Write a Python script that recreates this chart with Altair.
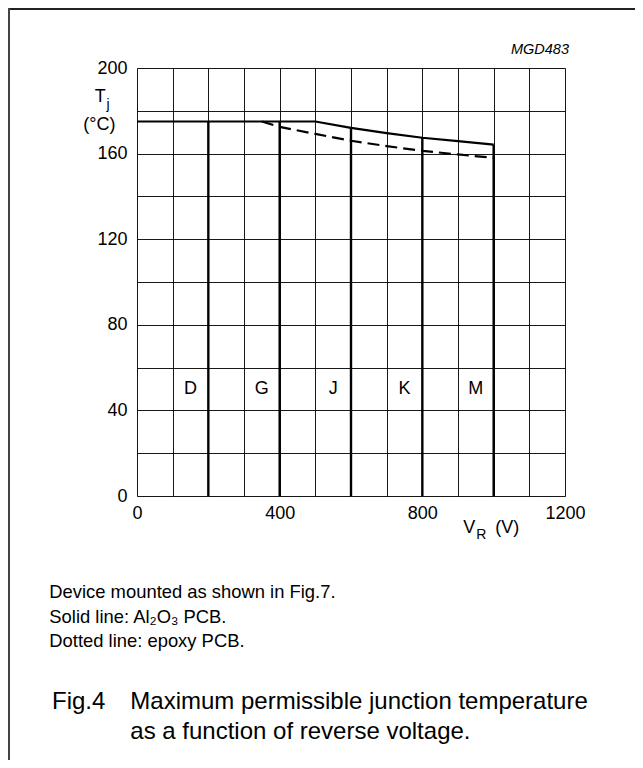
import altair as alt
import pandas as pd

# ---- data ----
solid_v = [0, 500, 600, 700, 800, 900, 1000]
solid_t = [175, 175, 172, 169.6, 167.4, 165.8, 164.2]
dash_v = [350, 400, 500, 600, 700, 800, 900, 1000]
dash_t = [175, 172.5, 169.2, 166, 163.5, 161.3, 159.6, 158]
bar_v = [200, 400, 600, 800, 1000]
bar_t = [175, 175, 172, 167.4, 164.2]
type_labels = ["D", "G", "J", "K", "M"]
type_v = [150, 350, 550, 750, 950]
type_t = [50, 50, 50, 50, 50]
x_grid = list(range(0, 1201, 100))
y_grid = list(range(0, 201, 20))
notes = ["Device mounted as shown in Fig.7.", "Solid line: Al\u2082O\u2083 PCB.", "Dotted line: epoxy PCB."]
caption_num = "Fig.4"
caption = ["Maximum permissible junction temperature", "as a function of reverse voltage."]

FONT = "Liberation Sans"

df_solid = pd.DataFrame({"v": solid_v, "t": solid_t})
df_dash = pd.DataFrame({"v": dash_v, "t": dash_t})
df_bar = pd.DataFrame({"v": bar_v, "t": bar_t})
df_types = pd.DataFrame({"v": type_v, "t": type_t, "label": type_labels})
one = pd.DataFrame({"a": [0]})

xscale = alt.Scale(domain=[0, 1200], nice=False, zero=False)
yscale = alt.Scale(domain=[0, 200], nice=False, zero=False)

xaxis = alt.Axis(values=x_grid, format="d",
                 labelExpr="datum.value % 400 == 0 ? datum.label : ''",
                 grid=True, gridColor="black", gridWidth=1, gridOpacity=0.9,
                 domain=False, ticks=False, labelFont=FONT, labelFontSize=18,
                 labelColor="black", labelPadding=8, labelFlush=False)
yaxis = alt.Axis(values=y_grid, format="d",
                 labelExpr="datum.value % 40 == 0 ? datum.label : ''",
                 grid=True, gridColor="black", gridWidth=1, gridOpacity=0.9,
                 domain=False, ticks=False, labelFont=FONT, labelFontSize=18,
                 labelColor="black", labelPadding=10, labelFlush=False)

X = alt.X("v:Q", scale=xscale, title=None, axis=xaxis)
Y = alt.Y("t:Q", scale=yscale, title=None, axis=yaxis)

solid = alt.Chart(df_solid).mark_line(color="black", strokeWidth=2.2).encode(x=X, y=Y)

dashed = alt.Chart(df_dash).mark_line(color="black", strokeWidth=2.2, strokeDash=[12, 6]).encode(x=X, y=Y)

bars = alt.Chart(df_bar).mark_rule(color="black", strokeWidth=2.4).encode(
    x=X, y=Y, y2=alt.datum(0),
)

types = alt.Chart(df_types).mark_text(font=FONT, fontSize=18, color="black").encode(
    x=X, y=Y, text="label:N",
)


def txt(s, x, y, size=18, align="left", style="normal", baseline="middle"):
    return alt.Chart(one).mark_text(
        text=s, font=FONT, fontSize=size, align=align, baseline=baseline,
        fontStyle=style, color="black"
    ).encode(x=alt.value(x), y=alt.value(y))


annots = [
    txt("MGD483", 432, -18, size=14.5, align="right", style="italic"),
    txt("T", -36.7, 29, size=18, align="center"),
    txt("j", -29, 37, size=14, align="center"),
    txt("(\u00b0C)", -37.7, 57, size=18, align="center"),
    txt("V", 326.3, 459.5, size=18),
    txt("R", 339.3, 467, size=14),
    txt("(V)", 358.3, 460, size=18),
    txt(notes[0], -87.7, 524, size=18.4),
    txt(notes[1], -87.7, 549, size=18.4),
    txt(notes[2], -87.7, 573, size=18.4),
    txt(caption_num, -85, 634, size=24),
    txt(caption[0], -6.7, 634, size=24),
    txt(caption[1], -6.7, 664, size=24),
]

frame_top = alt.Chart(one).mark_rule(color="#222", strokeWidth=2).encode(
    x=alt.value(-129), x2=alt.value(500), y=alt.value(-59))
frame_left = alt.Chart(one).mark_rule(color="#444", strokeWidth=2).encode(
    x=alt.value(-128), y=alt.value(-60), y2=alt.value(700))

chart = alt.layer(solid, dashed, bars, types, frame_top, frame_left, *annots).properties(
    width=428, height=428,
    autosize=alt.AutoSizeParams(type="none"),
    padding={"left": 129, "top": 60, "right": 70, "bottom": 264},
).configure_view(stroke=None).configure(background="white")

chart.save("out.html", embed_options={"renderer": "svg", "actions": False})
